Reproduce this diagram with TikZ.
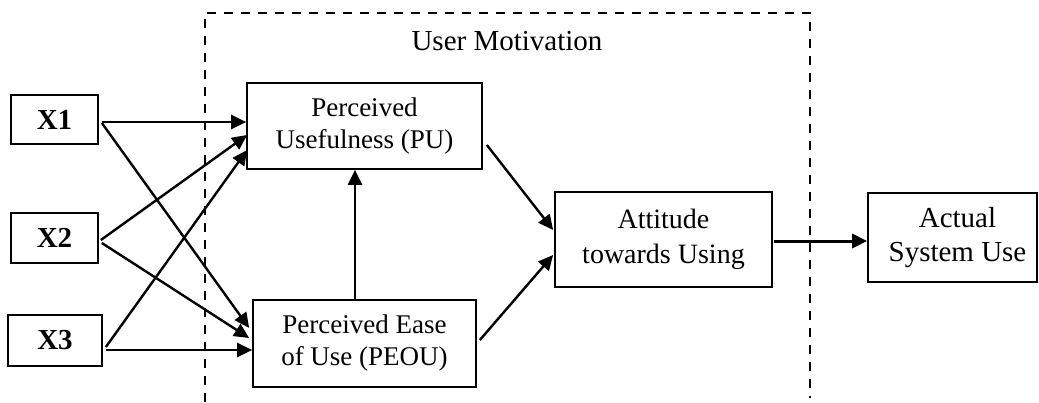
\documentclass[tikz,border=0pt]{standalone}
\usepackage{fontspec}
\setmainfont{Liberation Serif}
\usetikzlibrary{arrows.meta}
\tikzset{
  box/.style={draw=black, line width=1.7pt, inner sep=0pt, align=center, fill=white},
  conn/.style={line width=2.4pt, -{Triangle[length=15pt,width=14pt]}},
  region/.style={line width=1.9pt, dash pattern=on 9pt off 8pt}
}
\begin{document}
\begin{tikzpicture}[x=1pt,y=-1pt]
\useasboundingbox (0,0) rectangle (1039,402);
% dashed region
\coordinate (dl) at (205,402);
\coordinate (tl) at (205,13);
\coordinate (tr) at (810,13);
\coordinate (dr) at (810,398);
\draw[region] (dl) -- (tl) -- (tr) -- (dr);
\node[anchor=base, font=\fontsize{29}{34}\selectfont] (um) at (507,50) {User Motivation};
% boxes
\node[box, minimum width=87pt, minimum height=49pt, font=\fontsize{29}{32}\selectfont\bfseries] (x1) at (54.5,119.5) {X1};
\node[box, minimum width=87pt, minimum height=50pt, font=\fontsize{29}{32}\selectfont\bfseries] (x2) at (54.5,238) {X2};
\node[box, minimum width=94pt, minimum height=51pt, font=\fontsize{29}{32}\selectfont\bfseries] (x3) at (55,340.5) {X3};
\node[box, minimum width=235pt, minimum height=86pt, font=\fontsize{27}{32}\selectfont] (pu) at (364.5,126) {Perceived\\Usefulness (PU)};
\node[box, minimum width=223pt, minimum height=87pt, font=\fontsize{27}{32}\selectfont] (peou) at (364.5,343.5) {Perceived Ease\\of Use (PEOU)};
\node[box, minimum width=217pt, minimum height=95pt, font=\fontsize{28}{35}\selectfont] (att) at (663.5,239.5) {Attitude\\towards Using};
\node[box, minimum width=169pt, minimum height=89pt, font=\fontsize{29}{34}\selectfont] (act) at (952.5,237.5) {\hspace*{10pt}Actual\\\hspace*{10pt}System Use};
% connectors
\draw[conn] ([xshift=3pt,yshift=-2.5pt]x1.east) -- ([yshift=4pt]pu.west);
\draw[conn] ([xshift=3pt,yshift=-3.5pt]x1.east) -- ([xshift=-3pt,yshift=15.5pt]peou.west);
\draw[conn] ([xshift=2pt,yshift=-2pt]x2.east) -- ([xshift=1pt,yshift=-9pt]pu.west);
\draw[conn] ([xshift=3pt,yshift=-5pt]x2.east) -- ([xshift=-3pt,yshift=5.5pt]peou.west);
\draw[conn] ([xshift=3pt,yshift=-6.5pt]x3.east) -- ([xshift=1pt,yshift=-24pt]pu.west);
\draw[conn] ([xshift=3pt,yshift=-9.5pt]x3.east) -- ([yshift=-6.5pt]peou.west);
\draw[conn] ([xshift=-9.5pt]peou.north) -- ([xshift=-9.5pt]pu.south);
\draw[conn] ([xshift=4pt,yshift=-19pt]pu.east) -- ([xshift=-1pt,yshift=9.5pt]att.west);
\draw[conn] ([xshift=3pt,yshift=3.5pt]peou.east) -- ([xshift=-1pt,yshift=-15.5pt]att.west);
\draw[conn, line width=3pt] ([xshift=1pt,yshift=-1.5pt]att.east) -- ([yshift=-3.5pt]act.west);
\end{tikzpicture}
\end{document}
